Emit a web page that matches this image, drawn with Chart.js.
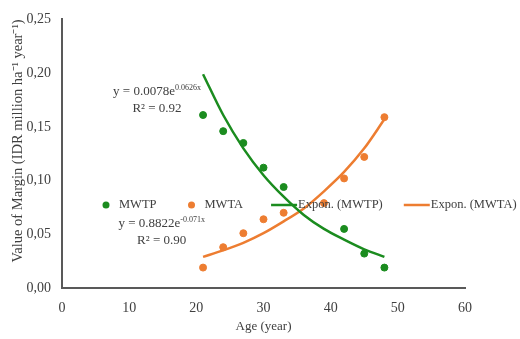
<!DOCTYPE html>
<html>
<head>
<meta charset="utf-8">
<script src="https://cdn.jsdelivr.net/npm/chart.js@4/dist/chart.umd.min.js"></script>
<style>
  body { margin: 0; background: #fff; }
  canvas { display: block; }
</style>
</head>
<body>
<canvas id="marginChart" width="520" height="339"></canvas>
<script>
/* observed values */
const ageMWTP = [21, 24, 27, 30, 33, 42, 45, 48];
const mwtp    = [0.161, 0.146, 0.135, 0.112, 0.094, 0.055, 0.032, 0.019];
const ageMWTA = [21, 24, 27, 30, 33, 39, 42, 45, 48];
const mwta    = [0.019, 0.038, 0.051, 0.064, 0.070, 0.079, 0.102, 0.122, 0.159];

/* trendline values */
const trendAge  = [21, 24, 27, 30, 33, 36, 39, 42, 45, 48];
const trendMWTP = [0.199, 0.161, 0.130, 0.105, 0.085, 0.068, 0.055, 0.045, 0.036, 0.029];
const trendMWTA = [0.029, 0.035, 0.042, 0.051, 0.062, 0.074, 0.090, 0.108, 0.130, 0.157];

const xTicks = [0, 10, 20, 30, 40, 50, 60];
const yTicks = [0, 0.05, 0.10, 0.15, 0.20, 0.25];

const GREEN  = "#1b8c1f";
const ORANGE = "#ed7d31";
const SERIF  = "'Liberation Serif', 'Times New Roman', serif";

// equation labels: main text, exponent, r2, anchor in data units
const equations = [
  { main: "y = 0.0078e", sup: "0.0626x", r2: "R² = 0.92", x: 7.6, y: 0.1796 },
  { main: "y = 0.8822e", sup: "-0.071x", r2: "R² = 0.90", x: 8.4, y: 0.0565 },
];

const pairs = (xs, ys) => xs.map((x, i) => ({ x, y: ys[i] }));

// legend drawn inside the plot, one row
const inlineLegend = {
  id: "inlineLegend",
  afterDraw(chart) {
    const ctx = chart.ctx;
    ctx.save();
    ctx.font = "12.5px " + SERIF;
    ctx.textBaseline = "middle";
    const y = 205;
    let x = 99;
    chart.data.datasets.forEach((ds) => {
      if (ds.showLine) {
        ctx.strokeStyle = ds.borderColor;
        ctx.lineWidth = 2.5;
        ctx.beginPath();
        ctx.moveTo(x, y);
        ctx.lineTo(x + 26, y);
        ctx.stroke();
        ctx.fillStyle = "#404040";
        ctx.fillText(ds.label, x + 27, y);
        x += 27 + ctx.measureText(ds.label).width + 21;
      } else {
        ctx.fillStyle = ds.backgroundColor;
        ctx.beginPath();
        ctx.arc(x + 7, y, 3.5, 0, Math.PI * 2);
        ctx.fill();
        ctx.fillStyle = "#404040";
        ctx.fillText(ds.label, x + 20, y);
        x += 20 + ctx.measureText(ds.label).width + 28;
      }
    });
    ctx.restore();
  },
};

// trendline equations
const equationLabels = {
  id: "equationLabels",
  afterDraw(chart) {
    const ctx = chart.ctx;
    const xs = chart.scales.x, ys = chart.scales.y;
    ctx.save();
    ctx.fillStyle = "#404040";
    ctx.textBaseline = "alphabetic";
    equations.forEach((eq) => {
      const px = xs.getPixelForValue(eq.x);
      const py = ys.getPixelForValue(eq.y);
      ctx.font = "13px " + SERIF;
      const w = ctx.measureText(eq.main).width;
      ctx.fillText(eq.main, px, py);
      ctx.font = "8px " + SERIF;
      const ws = ctx.measureText(eq.sup).width;
      ctx.fillText(eq.sup, px + w, py - 5);
      ctx.font = "13px " + SERIF;
      const wr = ctx.measureText(eq.r2).width;
      ctx.fillText(eq.r2, px + (w + ws) / 2 - wr / 2, py + 17);
    });
    ctx.restore();
  },
};

new Chart(document.getElementById("marginChart"), {
  type: "scatter",
  data: {
    datasets: [
      {
        label: "MWTP",
        data: pairs(ageMWTP, mwtp),
        backgroundColor: GREEN,
        borderColor: GREEN,
        pointRadius: 3.5,
        showLine: false,
      },
      {
        label: "MWTA",
        data: pairs(ageMWTA, mwta),
        backgroundColor: ORANGE,
        borderColor: ORANGE,
        pointRadius: 3.5,
        showLine: false,
      },
      {
        label: "Expon. (MWTP)",
        data: pairs(trendAge, trendMWTP),
        borderColor: GREEN,
        backgroundColor: GREEN,
        borderWidth: 2.5,
        pointRadius: 0,
        showLine: true,
        cubicInterpolationMode: "monotone",
      },
      {
        label: "Expon. (MWTA)",
        data: pairs(trendAge, trendMWTA),
        borderColor: ORANGE,
        backgroundColor: ORANGE,
        borderWidth: 2.5,
        pointRadius: 0,
        showLine: true,
        cubicInterpolationMode: "monotone",
      },
    ],
  },
  options: {
    responsive: false,
    animation: false,
    layout: { padding: { top: 17, right: 55, left: 0, bottom: 0 } },
    plugins: {
      legend: { display: false },
      tooltip: { enabled: false },
    },
    scales: {
      x: {
        type: "linear",
        min: xTicks[0],
        max: xTicks[xTicks.length - 1],
        afterBuildTicks: (scale) => { scale.ticks = xTicks.map((v) => ({ value: v })); },
        afterFit: (scale) => { scale.height = 51; },
        grid: { display: false, drawTicks: false },
        border: { color: "#595959", width: 2 },
        ticks: { color: "#404040", padding: 12, font: { family: SERIF, size: 14 } },
        title: {
          display: true,
          text: "Age (year)",
          color: "#404040",
          padding: { top: 0, bottom: 5 },
          font: { family: SERIF, size: 13 },
        },
      },
      y: {
        min: yTicks[0],
        max: yTicks[yTicks.length - 1],
        afterBuildTicks: (scale) => { scale.ticks = yTicks.map((v) => ({ value: v })); },
        afterFit: (scale) => { scale.width = 62; },
        grid: { display: false, drawTicks: false },
        border: { color: "#595959", width: 2 },
        ticks: {
          color: "#404040",
          padding: 11,
          font: { family: SERIF, size: 14 },
          callback: (v) => v.toFixed(2).replace(".", ","),
        },
        title: {
          display: true,
          text: "Value of Margin (IDR million ha⁻¹ year⁻¹)",
          color: "#404040",
          align: "end",
          padding: { top: 9, bottom: 0 },
          font: { family: SERIF, size: 14.5 },
        },
      },
    },
  },
  plugins: [inlineLegend, equationLabels],
});
</script>
</body>
</html>
